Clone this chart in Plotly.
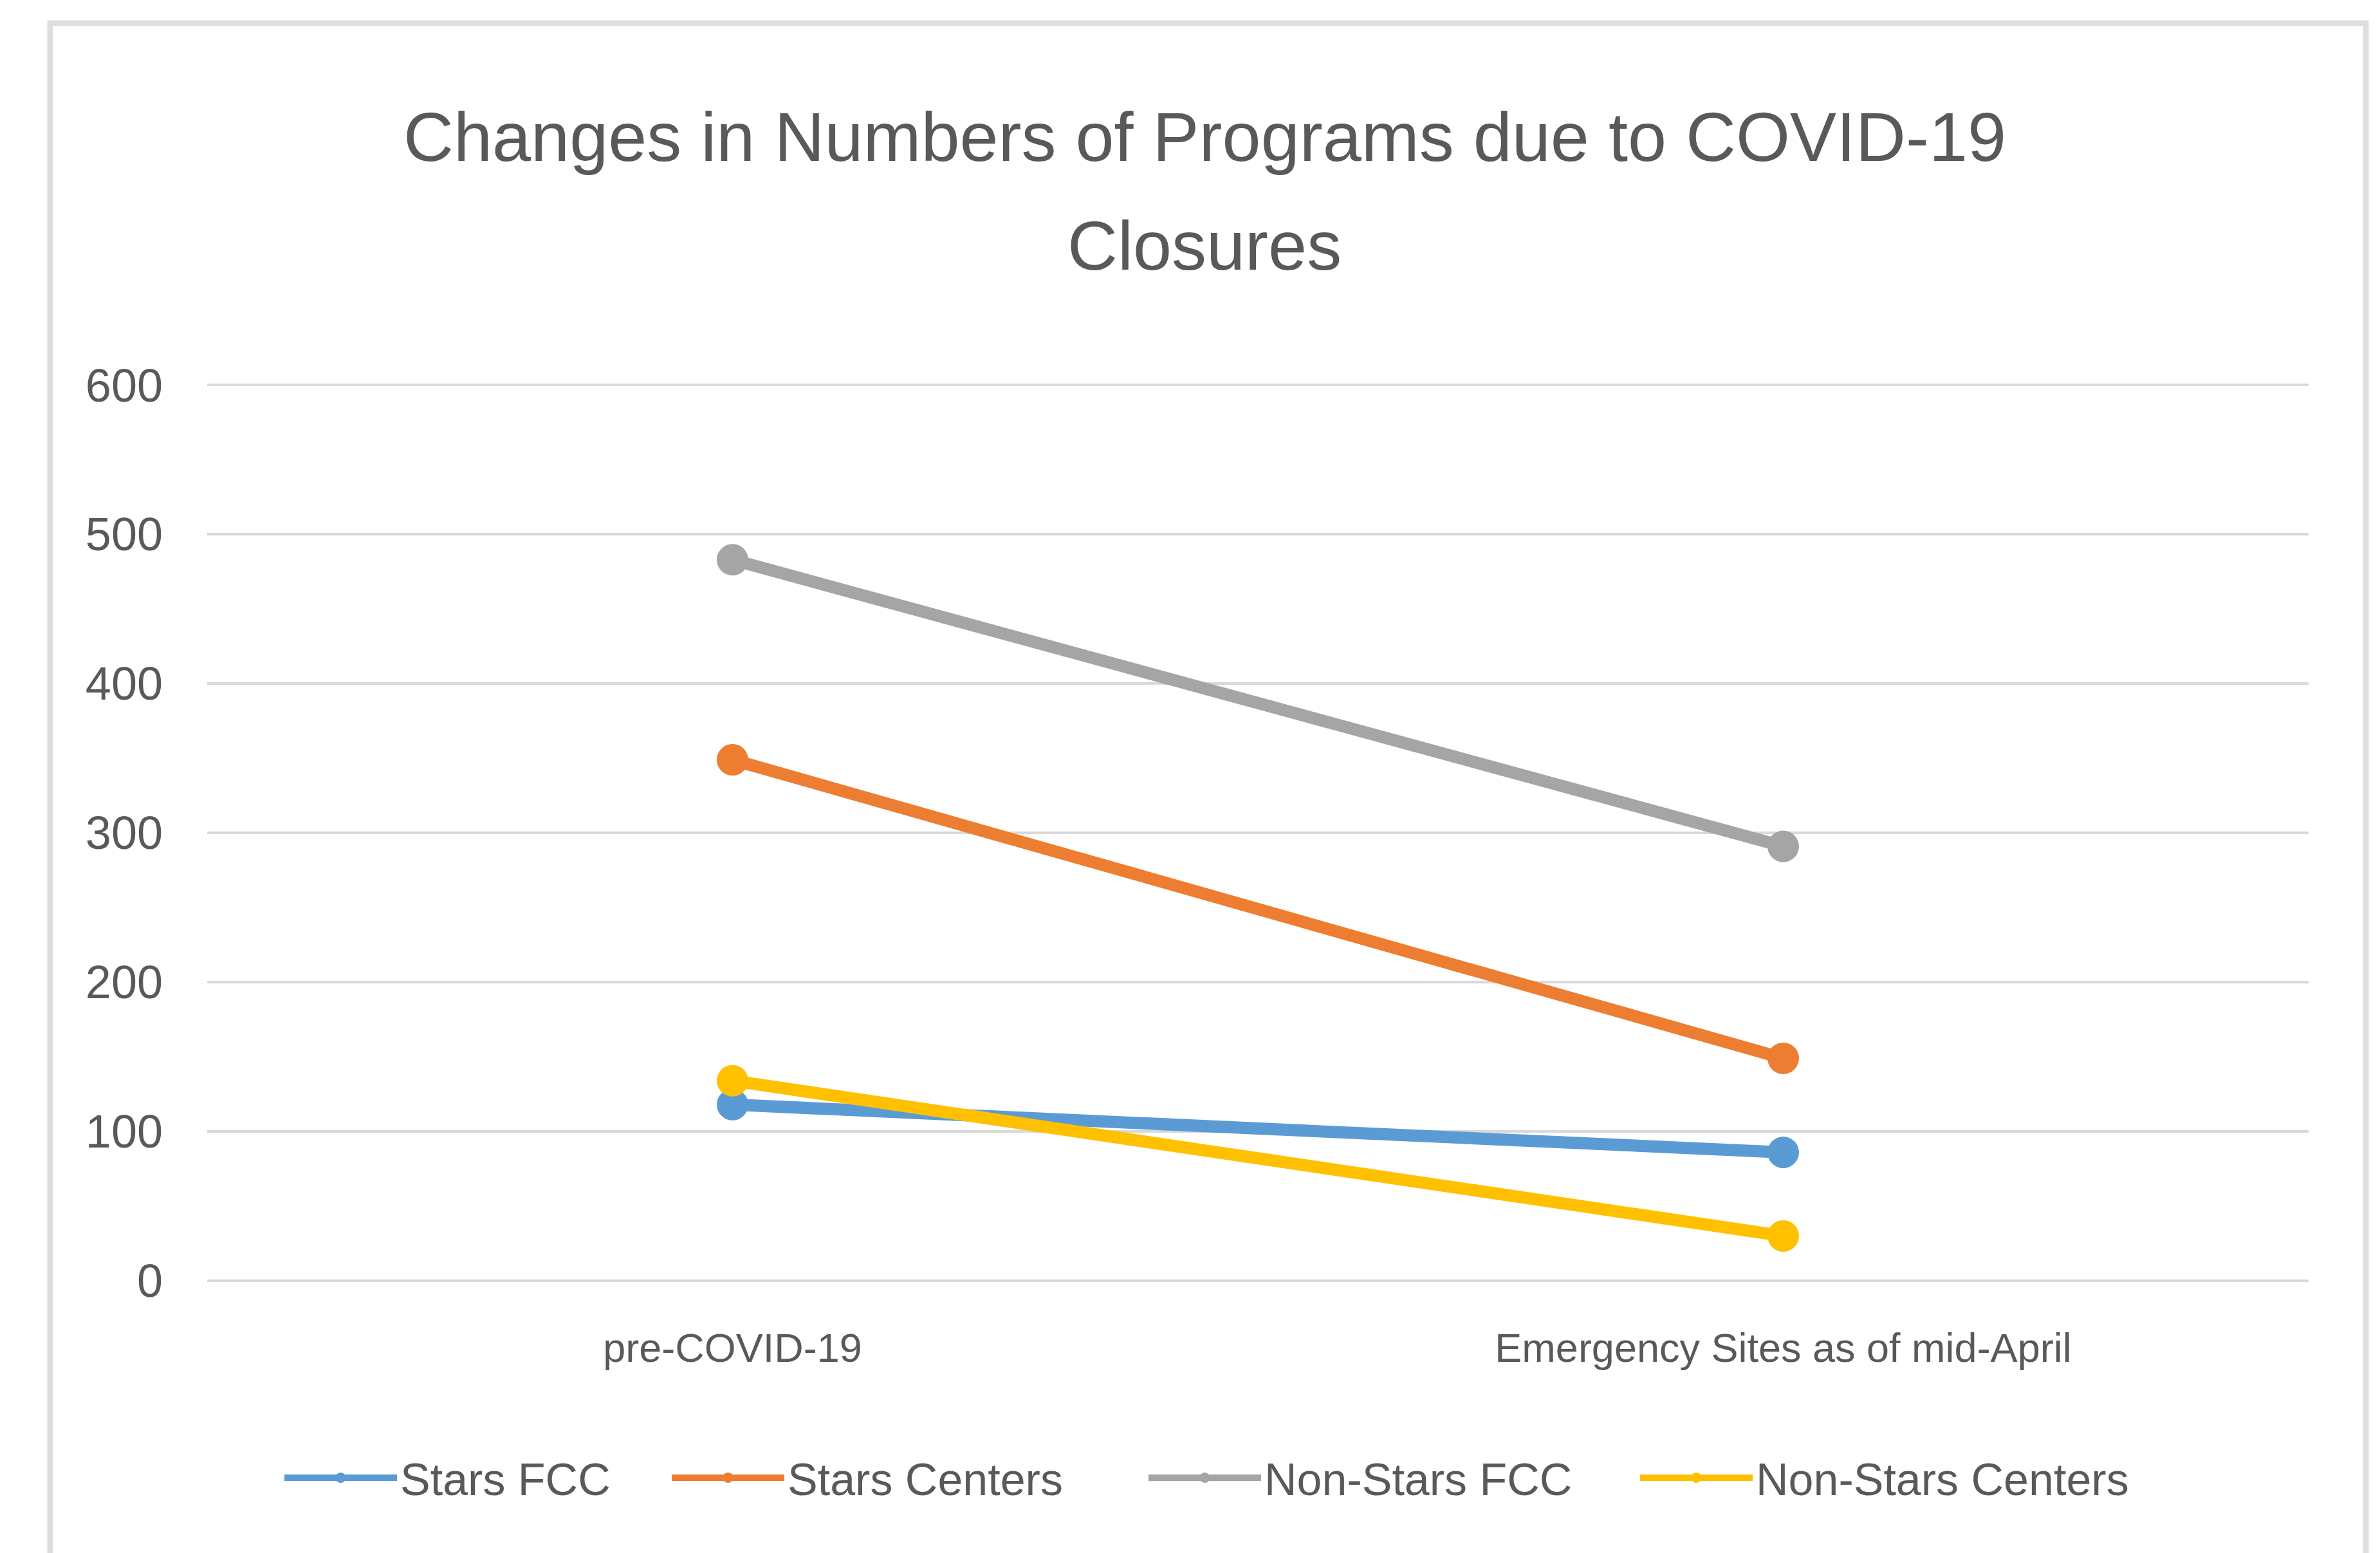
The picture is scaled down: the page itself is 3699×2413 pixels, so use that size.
import plotly.graph_objects as go

categories = ["pre-COVID-19", "Emergency Sites as of mid-April"]
series_names = ["Stars FCC", "Stars Centers", "Non-Stars FCC", "Non-Stars Centers"]
stars_fcc = [118, 86]
stars_centers = [349, 149]
non_stars_fcc = [483, 291]
non_stars_centers = [134, 30]
y_ticks = [0, 100, 200, 300, 400, 500, 600]
title_lines = ["Changes in Numbers of Programs due to COVID-19", "Closures"]
colors = ["#5B9BD5", "#ED7D31", "#A5A5A5", "#FFC000"]

FONT = "Liberation Sans, Arial, sans-serif"
TXT = "#595959"

W, H = 3699, 2413
YMAX = 601
L, R, B = 314, 119, 431
T = 590 - round((YMAX - 600) * (1982 - 590) / 600)
pw, ph = W - L - R, H - T - B


def py(pix):
    """convert a pixel row (from the top of the page) to paper y"""
    return (H - B - pix) / ph


def px(pix):
    return (pix - L) / pw


legend_ids = ["legend", "legend2", "legend3", "legend4"]
legend_left = [443, 1045, 1786, 2550]  # page x where each legend entry starts

fig = go.Figure()
for name, vals, col, lg in zip(series_names,
                               [stars_fcc, stars_centers, non_stars_fcc, non_stars_centers],
                               colors, legend_ids):
    fig.add_trace(go.Scatter(
        x=categories, y=vals, name=name, mode="lines+markers",
        line=dict(color=col, width=19),
        marker=dict(color=col, size=49),
        legend=lg,
    ))

# chart-area border
fig.add_shape(type="rect", xref="paper", yref="paper",
              x0=px(70), x1=px(3669), y0=py(2470), y1=py(28),
              line=dict(color="#DEDEDE", width=9), fillcolor="rgba(0,0,0,0)", layer="below")

# title (two lines, Excel-like spacing)
for txt, yy in zip(title_lines, [204, 374]):
    fig.add_annotation(text=txt, xref="paper", yref="paper", x=px(1864), y=py(yy),
                       xanchor="center", yanchor="middle", showarrow=False,
                       font=dict(size=108, color=TXT, family=FONT))

legend_style = dict(orientation="h", xanchor="left", y=py(2288), yanchor="middle",
                    font=dict(size=70, color=TXT, family=FONT), itemwidth=175,
                    itemsizing="trace", bgcolor="rgba(0,0,0,0)")

fig.update_layout(
    width=W, height=H,
    margin=dict(l=L, r=R, t=T, b=B),
    paper_bgcolor="white", plot_bgcolor="white",
    font=dict(family=FONT, color=TXT),
    xaxis=dict(type="category", range=[-0.5, 1.5], showgrid=False, showline=False,
               ticks="", tickfont=dict(size=63, color=TXT), ticklabelstandoff=62,
               zeroline=False),
    yaxis=dict(range=[0, YMAX], tickvals=y_ticks, showgrid=True, gridcolor="#D9D9D9",
               gridwidth=4, zeroline=True, zerolinecolor="#D9D9D9", zerolinewidth=4,
               showline=False, ticks="", tickfont=dict(size=72, color=TXT),
               ticklabelstandoff=68),
    showlegend=True,
)
for lg, xl in zip(legend_ids, legend_left):
    fig.update_layout({lg: dict(legend_style, x=px(xl - 14))})

fig.write_html("out.html")
